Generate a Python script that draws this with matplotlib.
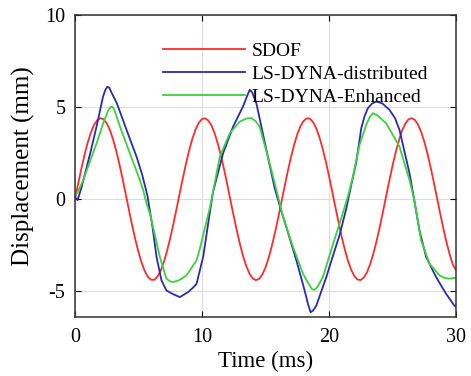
import matplotlib
matplotlib.use("Agg")
import matplotlib.pyplot as plt

# ---------------- data ----------------
t_sdof = [0.0, 0.25, 0.5, 0.75, 1.0, 1.25, 1.5, 1.75, 2.0, 2.25, 2.5, 2.75, 3.0, 3.25, 3.5,
          3.75, 4.0, 4.25, 4.5, 4.75, 5.0, 5.25, 5.5, 5.75, 6.0, 6.25, 6.5, 6.75, 7.0, 7.25,
          7.5, 7.75, 8.0, 8.25, 8.5, 8.75, 9.0, 9.25, 9.5, 9.75, 10.0, 10.25, 10.5, 10.75,
          11.0, 11.25, 11.5, 11.75, 12.0, 12.25, 12.5, 12.75, 13.0, 13.25, 13.5, 13.75,
          14.0, 14.25, 14.5, 14.75, 15.0, 15.25, 15.5, 15.75, 16.0, 16.25, 16.5, 16.75,
          17.0, 17.25, 17.5, 17.75, 18.0, 18.25, 18.5, 18.75, 19.0, 19.25, 19.5, 19.75,
          20.0, 20.25, 20.5, 20.75, 21.0, 21.25, 21.5, 21.75, 22.0, 22.25, 22.5, 22.75,
          23.0, 23.25, 23.5, 23.75, 24.0, 24.25, 24.5, 24.75, 25.0, 25.25, 25.5, 25.75,
          26.0, 26.25, 26.5, 26.75, 27.0, 27.25, 27.5, 27.75, 28.0, 28.25, 28.5, 28.75,
          29.0, 29.25, 29.5, 29.75, 30.0]
y_sdof = [0.0, 0.84, 1.65, 2.41, 3.07, 3.61, 4.03, 4.29, 4.40, 4.34, 4.12, 3.75, 3.24, 2.61,
          1.89, 1.09, 0.25, -0.59, -1.42, -2.19, -2.88, -3.46, -3.92, -4.23, -4.38, -4.38,
          -4.20, -3.88, -3.41, -2.81, -2.11, -1.34, -0.51, 0.34, 1.17, 1.96, 2.68, 3.30,
          3.80, 4.15, 4.35, 4.39, 4.27, 3.99, 3.57, 3.00, 2.33, 1.58, 0.76, -0.09, -0.93,
          -1.73, -2.48, -3.13, -3.66, -4.06, -4.31, -4.40, -4.33, -4.09, -3.71, -3.18,
          -2.54, -1.81, -1.01, -0.17, 0.68, 1.50, 2.26, 2.94, 3.52, 3.96, 4.25, 4.39, 4.37,
          4.18, 3.84, 3.35, 2.75, 2.04, 1.25, 0.42, -0.42, -1.25, -2.04, -2.75, -3.36,
          -3.84, -4.18, -4.37, -4.39, -4.25, -3.96, -3.51, -2.94, -2.26, -1.50, -0.68,
          0.17, 1.01, 1.81, 2.54, 3.18, 3.71, 4.09, 4.33, 4.40, 4.31, 4.06, 3.66, 3.13,
          2.48, 1.73, 0.93, 0.08, -0.76, -1.58, -2.33, -3.00, -3.56, -3.85]

t_dist = [0.0, 0.2, 0.5, 1.2, 1.7, 2.2, 2.4, 2.55, 2.7, 2.9, 3.3, 4.06, 4.85, 5.3, 5.7, 6.1,
          6.42, 6.81, 7.2, 7.7, 8.25, 8.9, 9.3, 9.57, 9.83, 10.1, 10.6, 10.87, 11.66, 12.45,
          13.23, 13.55, 13.76, 13.95, 14.28, 15.07, 15.72, 16.25, 16.64, 17.43, 18.08,
          18.35, 18.55, 18.75, 19.0, 19.79, 20.3, 20.83, 21.36, 21.75, 22.15, 22.54, 22.8,
          23.06, 23.4, 23.72, 24.2, 24.76, 25.2, 25.55, 26.34, 26.7, 27.12, 27.65, 28.43,
          29.22, 29.87, 30.0]
y_dist = [0.1, -0.05, 0.6, 2.5, 3.95, 5.55, 5.95, 6.1, 6.05, 5.75, 5.2, 3.76, 2.3, 1.3, 0.2,
          -1.5, -3.14, -4.41, -4.96, -5.15, -5.32, -5.05, -4.8, -4.6, -3.87, -3.1, -0.8,
          0.4, 2.49, 3.94, 5.03, 5.6, 5.94, 5.8, 5.21, 2.67, 0.6, -0.66, -1.51, -3.32,
          -4.96, -5.7, -6.14, -6.05, -5.78, -4.23, -3.1, -1.96, -0.51, 0.76, 2.03, 3.85,
          4.5, 4.94, 5.2, 5.3, 5.2, 4.85, 4.4, 3.76, 1.4, 0.0, -1.69, -3.14, -4.23, -5.14,
          -5.78, -5.85]

t_enh = [0.0, 0.2, 0.65, 1.2, 1.7, 2.22, 2.6, 2.8, 2.95, 3.1, 3.54, 4.32, 5.11, 5.37, 5.63,
         5.9, 6.68, 7.2, 7.5, 7.73, 8.2, 8.78, 9.57, 9.83, 10.09, 10.61, 10.87, 11.4, 12.19,
         12.97, 13.5, 13.89, 14.2, 14.54, 15.33, 15.86, 16.38, 17.17, 17.95, 18.4, 18.65,
         18.85, 19.1, 19.52, 20.31, 20.96, 21.49, 21.88, 22.4, 22.93, 23.2, 23.45, 23.8,
         24.5, 25.55, 26.34, 26.7, 27.25, 27.91, 28.7, 29.1, 29.48, 30.0]
y_enh = [0.25, 0.35, 1.03, 2.1, 3.03, 4.12, 4.8, 5.0, 5.02, 4.85, 3.94, 2.49, 1.03, 0.49,
         -0.23, -0.78, -3.14, -4.32, -4.47, -4.5, -4.4, -4.14, -3.32, -2.7, -1.95, -0.5,
         0.4, 2.3, 3.58, 4.21, 4.38, 4.4, 4.25, 3.94, 1.94, 0.49, -0.96, -2.6, -4.05,
         -4.6, -4.88, -4.93, -4.75, -4.23, -2.45, -1.05, 0.15, 1.2, 2.94, 4.03, 4.45,
         4.67, 4.55, 4.12, 2.85, 1.03, 0.0, -2.23, -3.5, -4.14, -4.28, -4.32, -4.27]

labels = ["SDOF", "LS-DYNA-distributed", "LS-DYNA-Enhanced"]
colors = ["#ff2a2a", "#2a2ab4", "#3ad23a"]
x_ticks = [0, 10, 20, 30]
y_ticks = [-5, 0, 5, 10]

# ---------------- figure ----------------
plt.rcParams["font.family"] = ["Liberation Serif", "DejaVu Serif"]
plt.rcParams["axes.unicode_minus"] = False

fig = plt.figure(figsize=(4.71, 3.76), dpi=100)
ax = fig.add_axes([75 / 471, 1 - 317 / 376, (456 - 75) / 471, (317 - 15) / 376])

ax.plot(t_sdof, y_sdof, color=colors[0], lw=1.3, label=labels[0])
ax.plot(t_dist, y_dist, color=colors[1], lw=1.3, label=labels[1])
ax.plot(t_enh, y_enh, color=colors[2], lw=1.3, label=labels[2])

ax.set_xlim(0, 30)
ax.set_ylim(-6.4, 10)
ax.set_xticks(x_ticks)
ax.set_yticks(y_ticks)
ax.grid(True, color="#dcdcdc", lw=0.8)
ax.set_axisbelow(True)
ax.tick_params(direction="in", top=True, right=True, length=4, width=0.8,
               labelsize=14.5)
ax.tick_params(axis="x", pad=8)
ax.tick_params(axis="y", pad=7)
for s in ax.spines.values():
    s.set_linewidth(1.1)
    s.set_color("#333333")

ax.set_xlabel("Time (ms)", fontsize=16.5, labelpad=3)
ax.set_ylabel("Displacement (mm)", fontsize=18, labelpad=7)

ax.legend(loc="upper left", bbox_to_anchor=(0.231, 0.909), frameon=False,
          fontsize=14, handlelength=4.2, handletextpad=0.35, labelspacing=0.27,
          borderpad=0, borderaxespad=0)

fig.savefig("out.png", dpi=100)
